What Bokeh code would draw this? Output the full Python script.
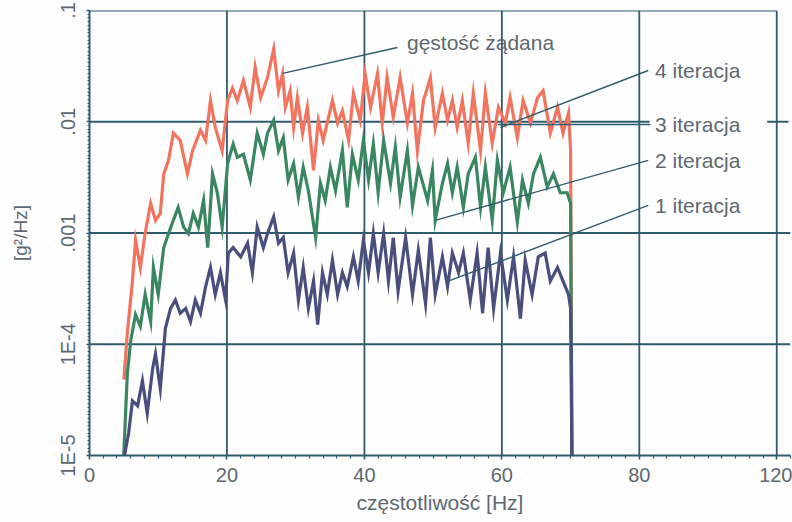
from bokeh.plotting import figure
from bokeh.models import Range1d, FixedTicker, ColumnDataSource, LabelSet
from bokeh.core.properties import value
from bokeh.embed import file_html
from bokeh.resources import INLINE

# ---------------- data ----------------
red_hz = [5.0, 5.5, 6.25, 6.7, 7.4, 8.1, 8.9, 9.6, 10.3, 10.8, 11.5, 12.2, 13.2, 14.25, 15.0, 16.15, 16.9,
          17.6, 18.3, 19.3, 20.1, 20.8, 21.5, 22.4, 23.4, 24.1, 24.9, 25.9, 26.8, 27.5, 28.1, 28.5, 29.2,
          29.7, 30.25, 31.0, 31.7, 32.6, 33.3, 34.0, 35.35, 36.1, 36.8, 37.7, 38.4, 39.4, 40.1, 40.9, 41.9,
          42.6, 43.3, 44.2, 45.2, 46.25, 47.0, 47.7, 48.6, 49.6, 50.3, 51.35, 52.1, 52.8, 53.5, 54.25, 55.1,
          55.85, 56.9, 57.6, 58.6, 59.5, 60.5, 61.2, 62.25, 63.1, 64.15, 65.2, 66.0, 67.05, 68.1, 68.9, 69.7,
          70.0, 70.2]
red_psd = [4.8e-5, 1.25e-4, 3.7e-4, 8.6e-4, 4.9e-4, 1.0e-3, 1.85e-3, 1.3e-3, 1.5e-3, 3.4e-3, 4.5e-3,
           7.9e-3, 6.8e-3, 3.4e-3, 5.5e-3, 8.4e-3, 6.8e-3, 1.55e-2, 8.9e-3, 5.5e-3, 1.55e-2, 2.0e-2,
           1.55e-2, 2.35e-2, 1.35e-2, 3.1e-2, 1.65e-2, 2.5e-2, 4.5e-2, 1.9e-2, 2.7e-2, 1.35e-2, 1.9e-2,
           8.9e-3, 1.65e-2, 7.9e-3, 1.35e-2, 3.65e-3, 1.03e-2, 6.8e-3, 1.55e-2, 9.7e-3, 1.26e-2, 6.8e-3,
           1.8e-2, 1.03e-2, 2.7e-2, 1.35e-2, 2.7e-2, 9.7e-3, 2.5e-2, 1.1e-2, 2.5e-2, 9.7e-3, 1.8e-2,
           5.5e-3, 1.55e-2, 2.5e-2, 8.9e-3, 1.8e-2, 1.03e-2, 1.55e-2, 8.9e-3, 1.55e-2, 6.4e-3, 1.8e-2,
           5.5e-3, 1.8e-2, 6.4e-3, 1.35e-2, 9.7e-3, 1.65e-2, 7.2e-3, 1.55e-2, 9.7e-3, 1.65e-2, 1.9e-2,
           7.9e-3, 1.35e-2, 7.9e-3, 1.2e-2, 5.5e-3, 9e-6]

green_hz = [4.95, 5.5, 6.0, 6.7, 7.4, 8.1, 8.9, 9.3, 10.0, 10.8, 11.5, 12.2, 12.9, 13.7, 14.4, 15.1, 15.85,
            16.6, 17.2, 17.9, 18.6, 19.3, 20.1, 20.9, 21.5, 22.4, 23.4, 24.4, 25.3, 25.9, 26.8, 27.5, 28.2,
            28.9, 29.7, 30.4, 31.1, 31.85, 32.9, 33.6, 34.3, 35.05, 35.8, 36.8, 37.5, 38.25, 39.1, 39.85,
            40.6, 41.3, 42.0, 42.8, 43.8, 44.5, 45.2, 46.25, 47.0, 47.85, 49.2, 49.9, 50.3, 51.35, 52.1,
            52.8, 53.5, 54.4, 55.1, 56.15, 56.9, 57.6, 58.6, 59.35, 60.2, 61.2, 62.25, 63.0, 63.85, 64.6,
            65.6, 66.6, 67.5, 68.5, 69.5, 70.0, 70.2]
green_psd = [9e-6, 5.4e-5, 1.08e-4, 1.85e-4, 1.45e-4, 2.8e-4, 1.6e-4, 4.9e-4, 2.8e-4, 7.4e-4, 9.9e-4,
             1.3e-3, 1.7e-3, 1.13e-3, 9.9e-4, 1.5e-3, 1.13e-3, 1.96e-3, 7.4e-4, 3.4e-3, 2.3e-3, 1.13e-3,
             4.2e-3, 6.3e-3, 4.8e-3, 5.1e-3, 3.0e-3, 7.9e-3, 5.1e-3, 7.9e-3, 1.03e-2, 5.5e-3, 7.2e-3,
             3.0e-3, 4.2e-3, 2.1e-3, 3.9e-3, 2.4e-3, 9.1e-4, 2.8e-3, 1.96e-3, 3.9e-3, 2.4e-3, 5.5e-3,
             1.7e-3, 5.1e-3, 3.0e-3, 6.8e-3, 3.0e-3, 6.3e-3, 2.3e-3, 6.8e-3, 2.8e-3, 5.9e-3, 2.1e-3,
             5.5e-3, 1.77e-3, 3.9e-3, 1.96e-3, 3.65e-3, 1.3e-3, 2.8e-3, 4.2e-3, 2.3e-3, 3.9e-3, 1.7e-3,
             3.4e-3, 4.8e-3, 1.7e-3, 3.9e-3, 1.3e-3, 4.5e-3, 2.3e-3, 3.9e-3, 1.25e-3, 3.0e-3, 1.85e-3,
             3.4e-3, 4.8e-3, 2.6e-3, 3.4e-3, 2.3e-3, 2.3e-3, 1.85e-3, 9e-6]

blue_hz = [4.95, 5.7, 6.25, 7.0, 7.7, 8.4, 9.2, 9.6, 10.3, 11.05, 11.8, 12.5, 13.2, 14.0, 14.7, 15.4, 16.15,
           16.9, 17.6, 18.3, 19.05, 19.8, 20.2, 20.9, 22.0, 23.0, 23.7, 24.4, 25.3, 25.9, 26.8, 27.5, 28.2,
           28.9, 29.7, 30.4, 31.1, 31.85, 32.6, 33.2, 33.9, 34.6, 35.35, 36.1, 36.8, 37.5, 38.4, 39.1,
           39.85, 40.6, 41.3, 42.0, 42.8, 43.5, 44.2, 44.9, 46.0, 47.0, 47.85, 48.9, 49.6, 50.3, 51.35,
           52.1, 52.8, 53.7, 54.4, 55.4, 56.4, 57.2, 58.0, 58.8, 59.8, 60.8, 61.7, 62.7, 63.4, 64.4, 65.3,
           66.3, 67.05, 68.1, 68.9, 69.7, 70.0, 70.2]
blue_psd = [9e-6, 1.6e-5, 3.1e-5, 2.8e-5, 4.7e-5, 2.4e-5, 6.1e-5, 8.2e-5, 4.0e-5, 1.4e-4, 2.1e-4, 2.5e-4,
            1.9e-4, 2.1e-4, 1.6e-4, 2.5e-4, 1.9e-4, 3.3e-4, 4.9e-4, 2.8e-4, 4.4e-4, 2.5e-4, 6.6e-4,
            7.4e-4, 6.1e-4, 8.1e-4, 4.4e-4, 1.13e-3, 7.4e-4, 9.9e-4, 1.4e-3, 8.1e-4, 9.1e-4, 4.4e-4,
            6.6e-4, 2.5e-4, 4.9e-4, 2.1e-4, 3.7e-4, 1.5e-4, 4.4e-4, 2.8e-4, 5.7e-4, 2.8e-4, 4.4e-4,
            3.3e-4, 6.1e-4, 3.7e-4, 8.6e-4, 4.4e-4, 9.9e-4, 4.4e-4, 9.9e-4, 3.7e-4, 9.1e-4, 3.0e-4,
            9.1e-4, 2.8e-4, 7.0e-4, 2.3e-4, 9.1e-4, 2.8e-4, 6.1e-4, 3.3e-4, 6.6e-4, 4.4e-4, 6.6e-4,
            2.5e-4, 6.6e-4, 1.9e-4, 7.4e-4, 2.1e-4, 6.6e-4, 2.5e-4, 6.1e-4, 1.7e-4, 5.7e-4, 2.8e-4,
            6.1e-4, 6.6e-4, 3.7e-4, 4.9e-4, 3.7e-4, 2.8e-4, 2.1e-4, 9e-6]

x_ticks = [0, 20, 40, 60, 80, 100]
x_tick_labels = ["0", "20", "40", "60", "80", "120"]
y_ticks = [1e-5, 1e-4, 1e-3, 1e-2, 1e-1]
y_tick_labels = ["1E-5", "1E-4", ".001", ".01", ".1"]

ann_text = ["gęstość żądana", "4 iteracja", "3 iteracja", "2 iteracja", "1 iteracja"]
ann_x = [46.2, 82.3, 82.3, 82.3, 82.3]
ann_y = [0.0516, 0.0289, 0.00945, 0.00449, 0.00177]
lead_x0 = [44.8, 81.3, 81.6, 81.3, 81.3]
lead_y0 = [0.0465, 0.0289, 0.00945, 0.00449, 0.00177]
lead_x1 = [28.1, 59.8, 59.4, 50.3, 52.2]
lead_y1 = [0.0272, 0.00888, 0.00945, 0.0013, 0.00037]

assert len(red_hz) == len(red_psd)
assert len(green_hz) == len(green_psd)
assert len(blue_hz) == len(blue_psd)

# ---------------- styling ----------------
LINE = "#2f5b6d"
TXT = "#5d6870"
FONT = "Liberation Sans"

p = figure(width=792, height=522, x_range=Range1d(0, 102), y_range=Range1d(1e-5, 0.1),
           y_axis_type="log", output_backend="svg", toolbar_location=None,
           min_border_left=89, min_border_right=2, min_border_top=10, min_border_bottom=67)
p.outline_line_color = None
p.xgrid.visible = False
p.ygrid.visible = False
p.background_fill_color = "#fefefe"
p.border_fill_color = "#fefefe"

# grid / frame lines
vx = x_ticks[1:]
p.segment(x0=vx, y0=[y_ticks[0]] * len(vx), x1=vx, y1=[y_ticks[-1]] * len(vx),
          line_color=LINE, line_width=1.8)
hy = [y_ticks[1], y_ticks[2], y_ticks[3], y_ticks[3], y_ticks[4]]
hx0 = [0, 0, 0, 98.6, 0]
hx1 = [102, 102, 81.5, 101.7, 100]
p.segment(x0=hx0, y0=hy, x1=hx1, y1=hy, line_color=LINE, line_width=1.8)

# curves
p.line(red_hz, red_psd, line_color="#f2735e", line_width=3.2, line_join="miter")
p.line(green_hz, green_psd, line_color="#3a8660", line_width=3.2, line_join="miter")
p.line(blue_hz, blue_psd, line_color="#4a4e7d", line_width=3.2, line_join="miter")

# leaders + annotations
p.segment(x0=lead_x0, y0=lead_y0, x1=lead_x1, y1=lead_y1, line_color=LINE, line_width=1.4)
src = ColumnDataSource(dict(x=ann_x, y=ann_y, t=ann_text))
p.add_layout(LabelSet(x="x", y="y", text="t", source=src, text_font=value(FONT),
                      text_font_size=value("21px"), text_color=value(TXT),
                      text_baseline=value("middle"), text_align=value("left")))

# axes
for ax in (p.xaxis[0], p.yaxis[0]):
    ax.axis_line_color = LINE
    ax.axis_line_width = 2
    ax.major_tick_line_color = LINE
    ax.minor_tick_line_color = LINE
    ax.major_tick_line_width = 1.5
    ax.minor_tick_line_width = 1.2
    ax.major_tick_in = 0
    ax.minor_tick_in = 0
    ax.major_label_text_font = FONT
    ax.major_label_text_color = TXT
    ax.major_label_text_font_size = "20px"
    ax.axis_label_text_font = FONT
    ax.axis_label_text_color = TXT
    ax.axis_label_text_font_style = "normal"

xa = p.xaxis[0]
xa.ticker = FixedTicker(ticks=x_ticks, minor_ticks=list(range(0, 103, 2)))
xa.major_label_overrides = dict(zip(x_ticks, x_tick_labels))
xa.major_tick_out = 4
xa.minor_tick_out = 3
xa.major_label_standoff = 8
xa.axis_label = "częstotliwość [Hz]"
xa.axis_label_text_font_size = "21px"
xa.axis_label_standoff = 6

ya = p.yaxis[0]
ya.ticker = FixedTicker(ticks=y_ticks, minor_ticks=[10 ** (-5 + k / 30) for k in range(121)])
ya.major_label_overrides = dict(zip(y_ticks, y_tick_labels))
ya.major_label_orientation = "parallel"
ya.major_tick_out = 3
ya.minor_tick_out = 2
ya.major_label_standoff = 8
ya.axis_label = "[g²/Hz]"
ya.axis_label_text_font_size = "19px"
ya.axis_label_standoff = 23

open("out.html", "w").write(file_html(p, INLINE))
